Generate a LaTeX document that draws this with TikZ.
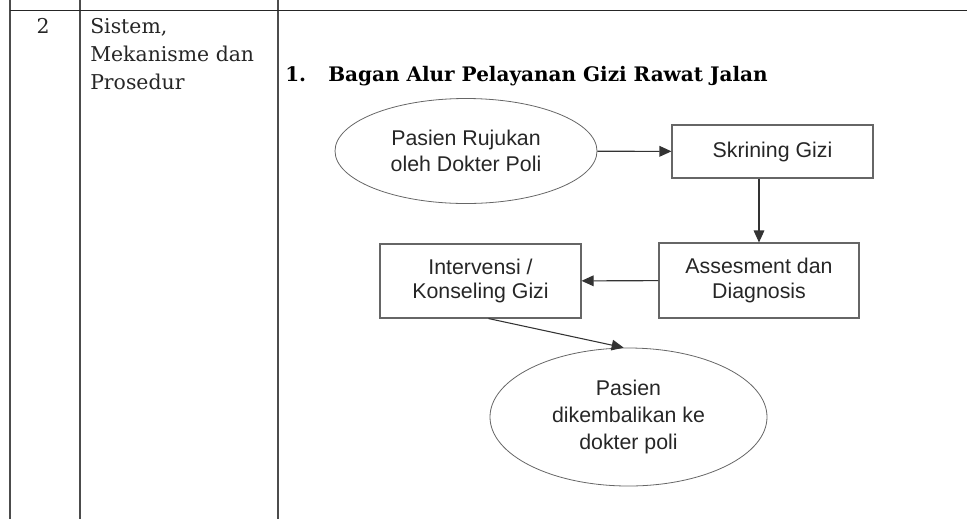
\documentclass[tikz,border=0pt]{standalone}
\usepackage{fontspec}
\setmainfont{DejaVu Serif}
\newfontfamily\boxfont{Liberation Sans}
\usetikzlibrary{arrows.meta,shapes.geometric}
\begin{document}
\begin{tikzpicture}[x=0.75pt,y=-0.75pt,
  tabline/.style={draw=black!70,line width=1.1pt},
  flowbox/.style={draw=black!60,line width=0.8pt,rectangle,inner sep=0pt,align=center,
    font=\boxfont\fontsize{16}{18.5}\selectfont,text=black!85},
  flowell/.style={draw=black!60,line width=0.6pt,ellipse,inner sep=0pt,align=center,
    font=\boxfont\fontsize{16}{20}\selectfont,text=black!85},
  flowarrow/.style={draw=black!80,line width=0.8pt,-{Triangle[length=9pt,width=8pt]}},
  celltext/.style={inner sep=0pt,align=left,font=\fontsize{15.3}{21}\selectfont,text=black!85},
  titletext/.style={inner sep=0pt,anchor=base west,font=\bfseries\fontsize{15}{18}\selectfont}
]
\useasboundingbox (0,0) rectangle (967,519);
% table lines
\draw[tabline] (10,0) -- (10,519);
\draw[tabline] (80,0) -- (80,519);
\draw[tabline] (278,0) -- (278,519);
\draw[draw=black!85,line width=1.1pt] (10,10.7) -- (967,10.7);
% cell texts
\node[celltext,anchor=base] (no) at (43,33) {2};
\node[celltext,anchor=north west] (cell) at (90,18) {Sistem,\\Mekanisme dan\\Prosedur};
\node[titletext] (title) at (285,81) {\makebox[32.25pt][l]{1.}Bagan Alur Pelayanan Gizi Rawat Jalan};
% flow
\node[flowell,minimum width=196.5pt,minimum height=78.75pt] (pas) at (466,151) {Pasien Rujukan\\oleh Dokter Poli};
\node[flowbox,minimum width=150.75pt,minimum height=39.75pt] (skr) at (772.5,151.5) {Skrining Gizi};
\node[flowbox,minimum width=150.75pt,minimum height=55.5pt] (int) at (480.5,281) {Intervensi /\\Konseling Gizi};
\node[flowbox,minimum width=150pt,minimum height=56.25pt] (ass) at (759,280.5) {Assesment dan\\Diagnosis};
\node[flowell,minimum width=207.75pt,minimum height=103.5pt] (low) at (628.5,417) {Pasien\\dikembalikan ke\\dokter poli};
\draw[flowarrow] (pas) -- (skr);
\draw[flowarrow] (skr.south -| ass.north) -- (ass.north);
\draw[flowarrow] (ass) -- (int);
\draw[flowarrow] (int.-78) -- (low.94);
\end{tikzpicture}
\end{document}
